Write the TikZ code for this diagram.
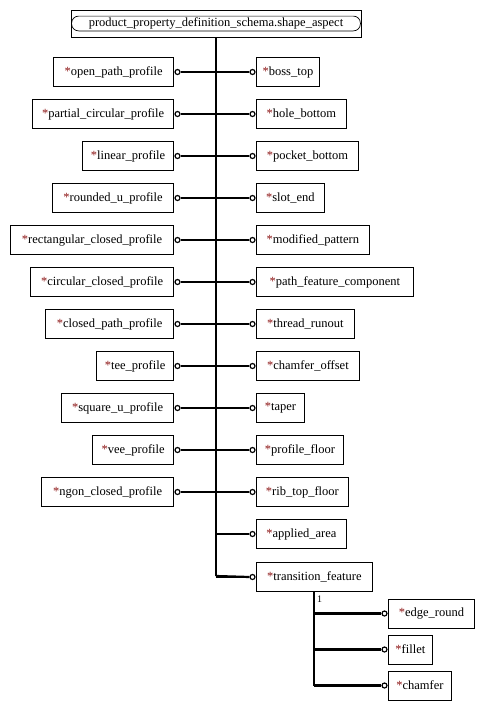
\documentclass[tikz,border=0pt]{standalone}
\usepackage{fontspec}
\setmainfont{Liberation Serif}
\definecolor{ast}{RGB}{140,20,20}
\newcommand{\st}{\textcolor{ast}{*}}
\begin{document}
\begin{tikzpicture}[x=1pt,y=-1pt,
  box/.style={draw, line width=0.8pt, minimum height=29pt, inner xsep=5pt, inner ysep=0pt,
    font=\fontsize{12.5}{14}\selectfont},
  lbox/.style={box, anchor=east},
  rbox/.style={box, anchor=west},
  dot/.style={circle, draw, line width=1.2pt, fill=white, inner sep=0pt, minimum size=5pt},
  conn/.style={line width=2.2pt},
  trunk/.style={line width=2.6pt}]
\useasboundingbox (0,0) rectangle (484,710);
% top node
\node[draw, line width=0.8pt, minimum width=290pt, minimum height=27pt, inner sep=0pt,
  font=\fontsize{12.5}{14}\selectfont] (top) at (216,23.5) {product\_property\_definition\_schema.shape\_aspect};
\draw[line width=0.7pt, rounded corners=7pt] ([shift={(1,6.5)}]top.north west) rectangle ([shift={(-1,-6.5)}]top.south east);
\coordinate (tbot) at (216,576);
% left nodes
\foreach \n/\y/\w/\t in {
 L1/72/120/open\_path\_profile,
 L2/114/141/partial\_circular\_profile,
 L3/156/91/linear\_profile,
 L4/198/121/rounded\_u\_profile,
 L5/240/163/rectangular\_closed\_profile,
 L6/282/143/circular\_closed\_profile,
 L7/324/128/closed\_path\_profile,
 L8/366/77/tee\_profile,
 L9/408/112/square\_u\_profile,
 L10/450/81/vee\_profile,
 L11/492/132/ngon\_closed\_profile}{
  \node[lbox, minimum width=\w pt] (\n) at (174,\y) {\st\t};
  \node[dot] (c\n) at ([xshift=3.5pt]\n.east) {};
  \draw[conn] (c\n.east) -- (c\n -| tbot);
}
% right nodes
\foreach \n/\y/\w/\t in {
 R1/72/63/boss\_top,
 R2/114/90/hole\_bottom,
 R3/156/102/pocket\_bottom,
 R4/198/68/slot\_end,
 R5/240/113/modified\_pattern,
 R6/282/157/path\_feature\_component,
 R7/324/98/thread\_runout,
 R8/366/103/chamfer\_offset,
 R9/408/48/taper,
 R10/450/87/profile\_floor,
 R11/492/92/rib\_top\_floor,
 R12/534/90/applied\_area,
 R13/577/116/transition\_feature}{
  \node[rbox, minimum width=\w pt] (\n) at (256,\y) {\st\t};
  \node[dot] (c\n) at ([xshift=-3.5pt]\n.west) {};
  \draw[conn] (c\n.west) -- (c\n -| tbot);
}
\draw[trunk] (top.south) -- (tbot);
\draw[conn] (tbot) -- (cR13.west);
% sub branch
\coordinate (sb) at (314,685.5);
\node[rbox, minimum width=86pt] (S1) at (388,613.5) {\st edge\_round};
\node[rbox, minimum width=44pt] (S2) at (388,649.5) {\st fillet};
\node[rbox, minimum width=63pt] (S3) at (388,685.5) {\st chamfer};
\foreach \n in {S1,S2,S3}{
  \node[dot] (c\n) at ([xshift=-3.5pt]\n.west) {};
}
\draw[trunk] (R13.south -| sb) -- (sb);
\foreach \n in {S1,S2,S3}{
  \draw[conn] (c\n.west) -- (c\n -| sb);
}
\node[anchor=north west, inner sep=0pt, font=\fontsize{10}{12}\selectfont] (one) at (317,596) {1};
\end{tikzpicture}
\end{document}
